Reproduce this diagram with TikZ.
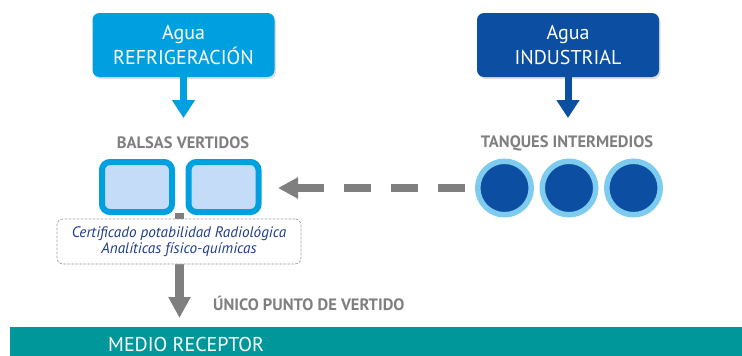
\documentclass[tikz,border=0pt]{standalone}
\usepackage{fontspec}
\setmainfont{PT Sans}
\usetikzlibrary{arrows.meta,shadows}
\definecolor{cyanA}{HTML}{00A0E0}
\definecolor{navyA}{HTML}{0B4EA2}
\definecolor{paleA}{HTML}{C5DCF8}
\definecolor{ringA}{HTML}{7DCBEF}
\definecolor{grayA}{HTML}{7F7F7F}
\definecolor{textgray}{HTML}{7F7F7F}
\definecolor{tealA}{HTML}{00979A}
\definecolor{itblue}{HTML}{1F3D8C}
\begin{document}
\begin{tikzpicture}[x=1pt,y=-1pt,
  source/.style={rounded corners=7pt, minimum width=182pt, minimum height=64pt,
    text=white, font=\fontsize{20}{25}\selectfont, align=center, inner sep=0pt,
    drop shadow={shadow xshift=1.5pt, shadow yshift=-2pt, opacity=0.25}},
  pond/.style={draw=cyanA, line width=6pt, fill=paleA, rounded corners=8pt,
    minimum width=70pt, minimum height=50pt, inner sep=0pt,
    drop shadow={shadow xshift=1.5pt, shadow yshift=-2pt, opacity=0.25}},
  tank/.style={circle, draw=ringA, line width=5.5pt, fill=navyA,
    minimum size=53.5pt, inner sep=0pt,
    drop shadow={shadow xshift=1.5pt, shadow yshift=-2pt, opacity=0.25}},
  grouplabel/.style={text=textgray, font=\bfseries\fontsize{16.5}{18}\selectfont, inner sep=0pt},
  flow/.style={line width=7pt, -{Triangle[length=18pt,width=22pt]}}
]
\useasboundingbox (0,0) rectangle (742,356);

% sources
\node[source, fill=cyanA] (refr) at (183.5,45) {Agua\\REFRIGERACIÓN};
\node[source, fill=navyA] (ind) at (568,45) {Agua\\INDUSTRIAL};
\coordinate (refrtip) at (183.5,118);
\coordinate (indtip) at (568,118);
\draw[flow, cyanA] (refr.south) -- (refrtip);
\draw[flow, navyA] (ind.south) -- (indtip);

% labels
\node[grouplabel] (balsaslbl) at (183,143) {BALSAS VERTIDOS};
\node[grouplabel] (tanqueslbl) at (567,143) {TANQUES INTERMEDIOS};

% bottom arrow (behind the certificate box)
\coordinate (outlet) at (179.5,213);
\coordinate (vtip) at (179.5,318);
\draw[grayA, line width=9pt, -{Triangle[length=21pt,width=21pt]}] (outlet) -- (vtip);

% ponds
\node[pond] (b1) at (137,187) {};
\node[pond] (b2) at (223.5,187) {};

% tanks
\node[tank] (t1) at (504.5,188) {};
\node[tank] (t2) at (569,188) {};
\node[tank] (t3) at (633.5,188) {};

% dashed transfer arrow
\coordinate (dstart) at (465,188);
\coordinate (dtip) at (278,188);
\draw[grayA, line width=7.5pt, dash pattern=on 27pt off 20pt,
  -{Triangle[length=20pt,width=20pt]}] (dstart) -- (dtip);

% certificate box
\node[draw=gray!80, dash pattern=on 2.5pt off 1.5pt, line width=0.7pt, rounded corners=6pt, fill=white,
  minimum width=244pt, minimum height=45pt, inner sep=0pt, align=center, text=itblue,
  font=\itshape\fontsize{15.2}{16.5}\selectfont] (cert) at (179,241.5)
  {Certificado potabilidad Radiológica\\Analíticas físico-químicas};

\node[grouplabel, anchor=west] (unico) at (213,303) {ÚNICO PUNTO DE VERTIDO};

% receiving medium
\node[fill=tealA, minimum width=732pt, minimum height=29pt, inner sep=0pt, anchor=north west] (bar) at (10,327) {};
\node[text=white, font=\fontsize{20}{22}\selectfont, anchor=west, inner sep=0pt] (medio) at (108,344) {MEDIO RECEPTOR};
\end{tikzpicture}
\end{document}
